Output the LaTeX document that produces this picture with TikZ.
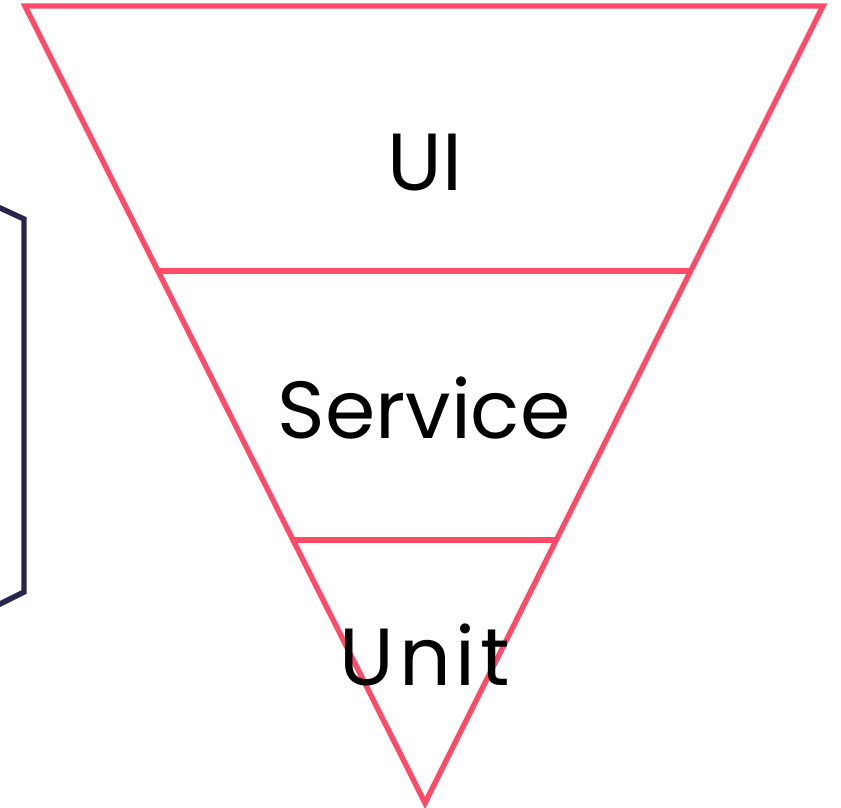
\documentclass[tikz,border=0pt]{standalone}
\usepackage{fontspec}
\setmainfont{Poppins}
\newfontfamily\widepop[LetterSpace=6]{Poppins}
\definecolor{pinkred}{HTML}{FF4B68}
\definecolor{navy}{HTML}{27264D}
\begin{document}
\begin{tikzpicture}[x=1pt,y=-1pt,
  edge/.style={draw=pinkred,line width=5.4pt,line join=miter},
  lbl/.style={font=\fontsize{81}{90}\selectfont,anchor=base,inner sep=0pt}]
\useasboundingbox (0,0) rectangle (841,808);
\coordinate (tl) at (25,6);
\coordinate (tr) at (823,6);
\coordinate (bt) at (425,803);
\draw[edge] (tl) -- (tr) -- (bt) -- cycle;
\draw[edge] (159,271) -- (690,271);
\draw[edge] (293,540) -- (556,540);
\draw[draw=navy,line width=5.4pt] (-2,207) -- (24,219) -- (24,592) -- (-2,605);
\node[lbl] (ui) at (425,190) {UI};
\node[lbl] (svc) at (424,438) {Service};
\node[lbl] (unit) at (425,685) {\widepop Unit};
\end{tikzpicture}
\end{document}
